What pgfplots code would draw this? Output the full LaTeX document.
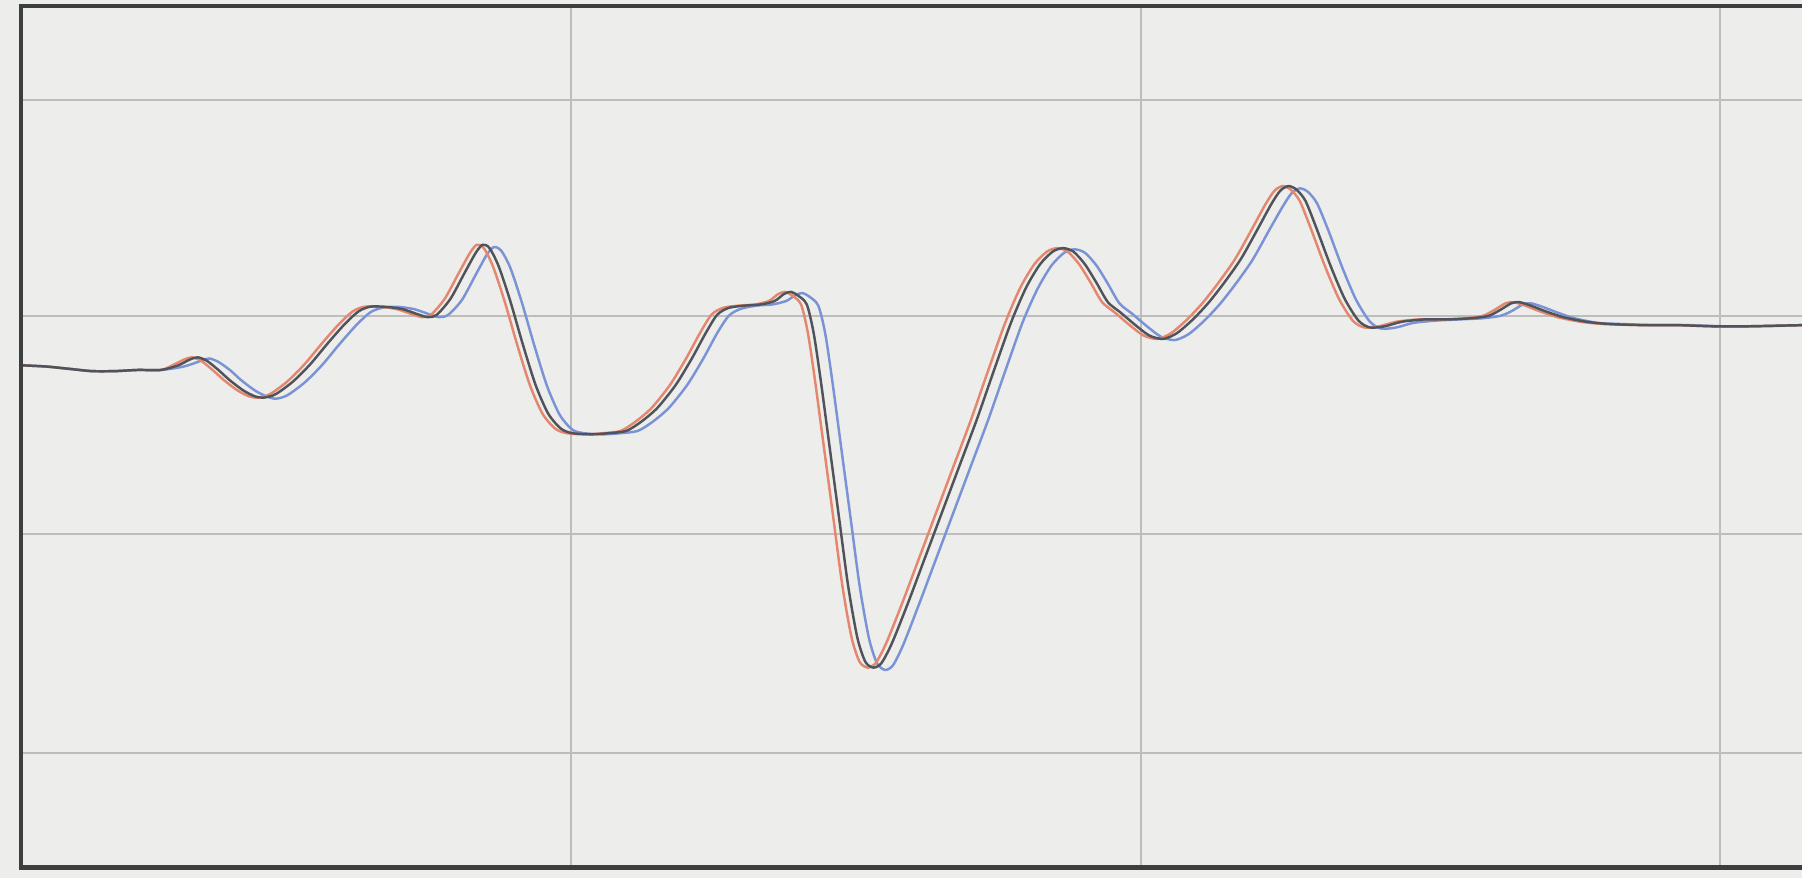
\documentclass[border=0pt]{standalone}
\usepackage{pgfplots}
\usepackage{pgfplotstable}
\pgfplotsset{compat=1.18}
\usetikzlibrary{backgrounds}

\definecolor{paper}{HTML}{EDEDEB}
\definecolor{gridc}{HTML}{BDBDBB}
\definecolor{framec}{HTML}{3B403E}
\definecolor{tracedark}{HTML}{50535A}
\definecolor{tracered}{HTML}{E5876E}
\definecolor{traceblue}{HTML}{7A93D6}

% three recorded traces (time, amplitude)
\pgfplotstableread{
x y
20 147
40 146
60 144
80 142
100 142
120 143
140 143
155 147
165 152
172 154
180 151
190 143
200 134
212 125
222 120
230 119
240 122
255 133
270 148
285 166
300 183
312 194
322 198
335 198
350 196
362 192
372 189
380 191
392 205
404 227
414 245
420 252
426 249
434 233
444 203
455 165
466 130
477 105
488 92
498 88
515 87
530 88
545 90
558 98
572 110
588 130
602 153
614 175
624 191
634 197
648 199
662 200
674 203
682 209
688 211
694 208
702 200
708 175
714 135
722 75
730 15
738 -45
746 -90
753 -111
760 -116
767 -112
776 -95
790 -60
805 -20
820 20
835 60
850 100
865 143
880 185
893 215
905 235
916 246
925 249
934 246
944 235
954 219
964 202
975 193
988 182
1000 173
1012 170
1024 175
1038 187
1052 202
1066 220
1080 240
1094 265
1106 287
1114 299
1121 303
1128 300
1136 290
1146 265
1158 233
1170 205
1182 186
1192 180
1205 181
1220 185
1240 187
1260 187
1280 188
1295 190
1305 195
1315 201
1322 202
1332 199
1345 194
1360 189
1380 185
1400 183
1430 182
1460 182
1490 181
1520 181
1568 182
}\darktrace

\pgfplotstableread{
x y
20 147
40 146
60 144
80 142
100 142
120 143
140 143
150 147
160 152
167 154
175 151
185 143
195 134
207 125
217 120
225 119
235 122
250 133
265 148
280 166
295 183
307 194
317 198
330 198
345 196
357 192
367 189
375 191
387 205
399 227
409 245
415 252
421 249
429 233
439 203
450 165
461 130
472 105
483 92
493 88
510 87
525 88
540 90
553 98
567 110
583 130
597 153
609 175
619 191
629 197
643 199
657 200
669 203
677 209
683 211
689 208
697 200
703 175
709 135
717 75
725 15
733 -45
741 -90
748 -111
755 -116
762 -112
771 -95
785 -60
800 -20
815 20
830 60
845 100
860 143
875 185
888 215
900 235
911 246
920 249
929 246
939 235
949 219
959 202
970 193
983 182
995 173
1007 170
1019 175
1033 187
1047 202
1061 220
1075 240
1089 265
1101 287
1109 299
1116 303
1123 300
1131 290
1141 265
1153 233
1165 205
1177 186
1187 180
1200 181
1215 185
1235 187
1255 187
1275 188
1290 190
1300 195
1310 201
1317 202
1327 199
1340 194
1355 189
1375 185
1395 183
1430 182
1460 182
1490 181
1520 181
1568 182
}\redtrace

\pgfplotstableread{
x y
20 147
40 146
60 144
80 142
100 142
120 143
140 143
160 146
175 151
182 153
190 150
200 143
210 134
222 125
232 120
240 118
250 121
265 132
280 147
295 165
310 182
322 193
332 197
345 198
360 196
372 192
382 189
390 191
402 204
414 226
424 244
430 250
436 247
444 232
454 202
465 164
476 129
487 104
498 91
508 88
525 87
540 88
555 90
568 98
582 110
598 130
612 153
624 175
634 190
644 196
658 199
672 200
684 203
692 208
698 210
704 207
712 199
718 175
724 135
732 75
740 15
748 -45
756 -90
763 -112
770 -118
777 -114
786 -96
800 -60
815 -20
830 20
845 60
860 100
875 143
890 185
903 214
915 234
926 245
935 248
944 245
954 234
964 218
974 201
985 192
998 181
1010 172
1022 169
1034 174
1048 186
1062 201
1076 219
1090 239
1104 264
1116 285
1124 297
1131 301
1138 298
1146 288
1156 264
1168 232
1180 204
1192 185
1202 179
1215 180
1230 184
1250 186
1270 187
1290 188
1305 190
1315 194
1325 200
1332 201
1342 198
1355 193
1370 188
1390 184
1410 183
1440 182
1470 182
1500 181
1530 181
1568 182
}\bluetrace

\begin{document}
\begin{tikzpicture}
\begin{axis}[
  scale only axis,
  width=17.813cm, height=8.619cm,
  xmin=18, xmax=1568, ymin=-290, ymax=460,
  axis line style={draw=none},
  xtick={497,993,1497}, ytick={-190,0,190,378},
  xticklabels={}, yticklabels={},
  major tick length=0pt, tick style={draw=none},
  grid=major, grid style={gridc, line width=0.6pt},
  axis background/.style={fill=paper},
  clip mode=individual,
  every axis plot/.append style={smooth, tension=0.45, line width=0.7pt, line join=round},
]
\addplot[traceblue] table {\bluetrace};
\addplot[tracered] table {\redtrace};
\addplot[tracedark] table {\darktrace};
\coordinate (sw) at (rel axis cs:0,0);
\coordinate (ne) at (rel axis cs:1,1);
\draw[framec, line width=1.2pt, line cap=rect]
  (rel axis cs:1,1) -- (rel axis cs:0,1) -- (rel axis cs:0,0) -- (rel axis cs:1,0);
\end{axis}
\pgfresetboundingbox
\begin{scope}[on background layer]
\fill[paper] ([xshift=-0.207cm,yshift=-0.103cm]sw) rectangle ([yshift=0.057cm]ne);
\end{scope}
\end{tikzpicture}
\end{document}
